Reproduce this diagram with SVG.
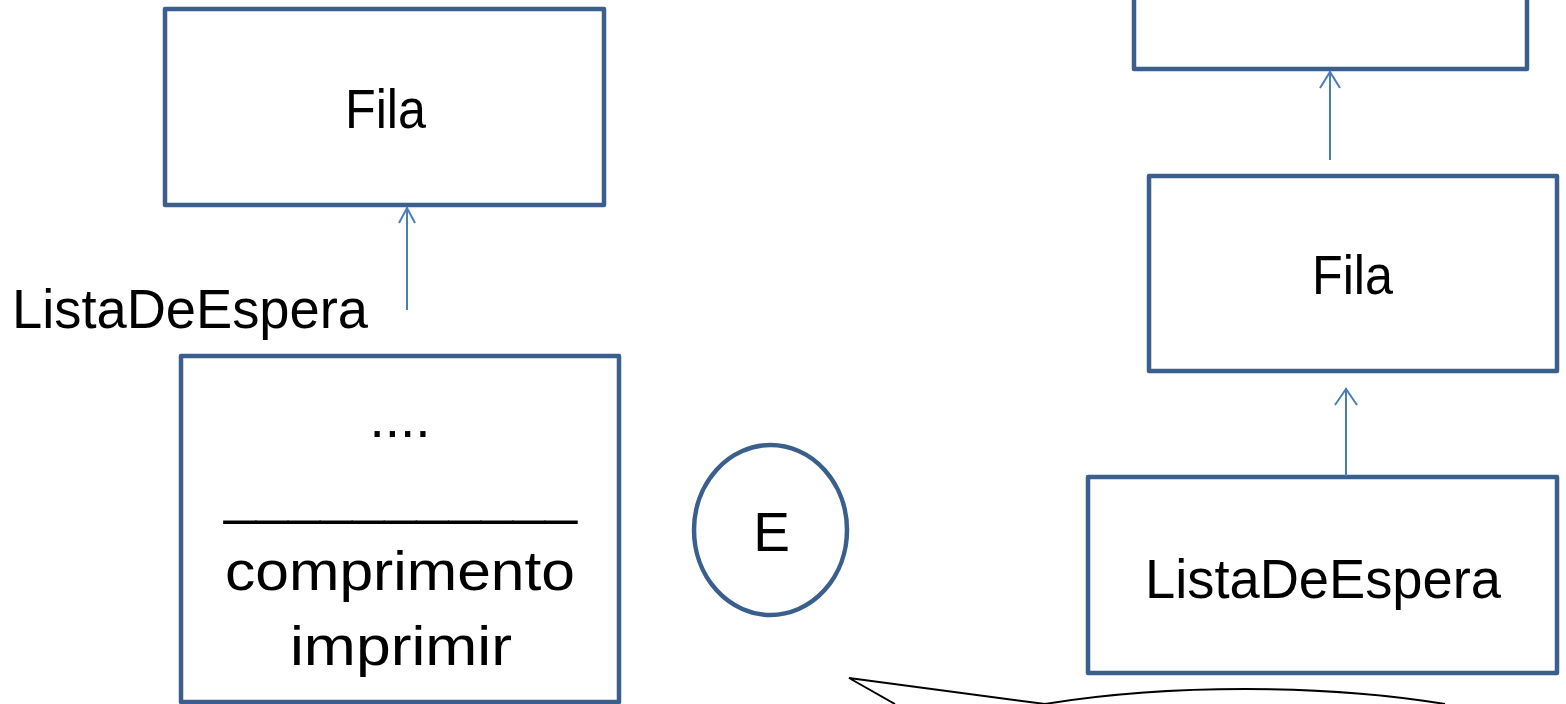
<svg xmlns="http://www.w3.org/2000/svg" width="1566" height="704" viewBox="0 0 1566 704">
<style>
.box{fill:#ffffff;stroke:#3A5F8C;stroke-width:4.5;stroke-linejoin:round}
.t{font-family:"Liberation Sans",Arial,sans-serif;font-size:55px;fill:#000000;text-anchor:middle}
.conn{fill:none;stroke:#4A7EBB;stroke-width:2}
.call{fill:none;stroke:#000000;stroke-width:2;stroke-linejoin:miter}
</style>
<rect width="1566" height="704" fill="#ffffff"/>
<g id="fila-left">
<rect class="box" x="165" y="9" width="439" height="196"/>
<text class="t" x="385.5" y="128" textLength="81" lengthAdjust="spacingAndGlyphs">Fila</text>
</g>
<g id="label-lista-left">
<text class="t" x="190" y="328" textLength="356" lengthAdjust="spacingAndGlyphs">ListaDeEspera</text>
</g>
<g id="lista-class-left">
<rect class="box" x="181" y="356" width="438" height="346"/>
<text class="t" x="400" y="437">....</text>
<text class="t" x="400.5" y="513" textLength="353" lengthAdjust="spacingAndGlyphs">___________</text>
<text class="t" x="400" y="590" textLength="350" lengthAdjust="spacingAndGlyphs">comprimento</text>
<text class="t" x="401" y="665" textLength="222" lengthAdjust="spacingAndGlyphs">imprimir</text>
</g>
<g id="e-node">
<ellipse class="box" cx="770.5" cy="530" rx="76.5" ry="85"/>
<text class="t" x="771.5" y="551">E</text>
</g>
<g id="top-right">
<rect class="box" x="1134" y="-60" width="393" height="129"/>
</g>
<g id="fila-right">
<rect class="box" x="1149" y="176" width="408" height="195"/>
<text class="t" x="1352.5" y="294" textLength="81" lengthAdjust="spacingAndGlyphs">Fila</text>
</g>
<g id="lista-right">
<rect class="box" x="1088" y="477" width="469" height="196"/>
<text class="t" x="1323" y="598" textLength="356" lengthAdjust="spacingAndGlyphs">ListaDeEspera</text>
</g>
<g id="callout">
<path class="call" d="M895,704 L849,678 L1045,704"/>
<path class="call" d="M1045,704 A380 100 0 0 1 1445 704"/>
</g>
<g id="connectors">
<path class="conn" d="M407,310 L407,207 M399,223 L407,208 L415,223"/>
<path class="conn" d="M1330,160 L1330,71 M1320,88 L1330,72 L1340,88"/>
<path class="conn" d="M1346,476 L1346,388 M1335,405 L1346,389 L1357,405"/>
</g>
</svg>
